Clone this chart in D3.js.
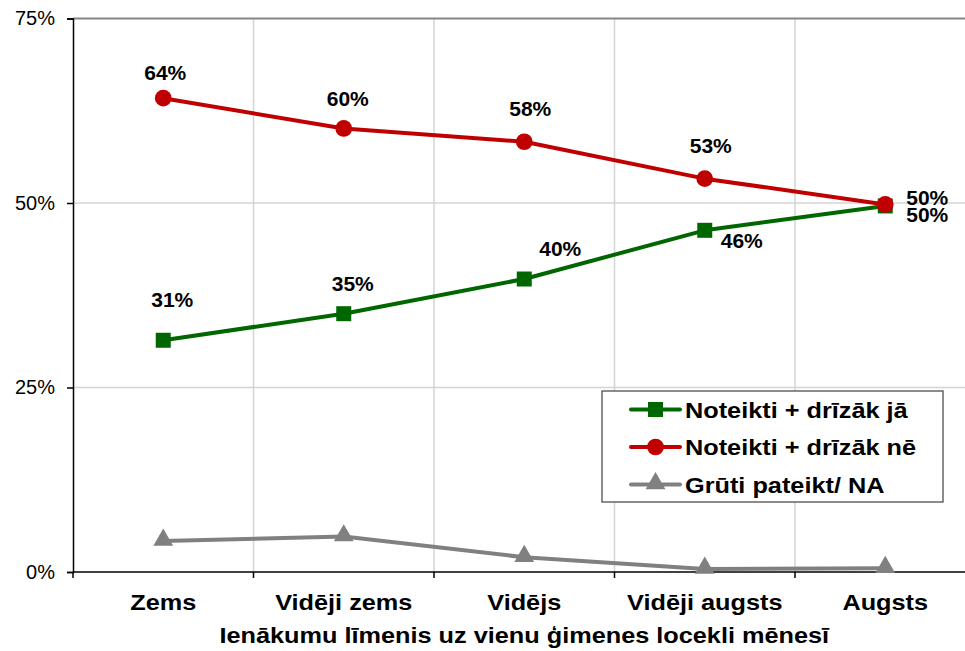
<!DOCTYPE html>
<html>
<head>
<meta charset="utf-8">
<script src="https://cdn.jsdelivr.net/npm/d3@7"></script>
<style>
  html, body { margin: 0; padding: 0; background: #fff; }
  svg { display: block; font-family: "Liberation Sans", Arial, sans-serif; }
</style>
</head>
<body>
<div id="chart"></div>
<script>
// Income level categories
const categories = ["Zems", "Vidēji zems", "Vidējs", "Vidēji augsts", "Augsts"];
const yTicks = [0, 25, 50, 75];
const xTitle = "Ienākumu līmenis uz vienu ģimenes locekli mēnesī";

// Series values (%)
const seriesNames = ["Noteikti + drīzāk jā", "Noteikti + drīzāk nē", "Grūti pateikt/ NA"];
const yesValues = [31.4, 35.0, 39.7, 46.3, 49.6];
const noValues = [64.2, 60.1, 58.3, 53.3, 49.8];
const hardValues = [4.2, 4.8, 2.0, 0.4, 0.5];

// label placement relative to the point (dx, dy of baseline)
const yesLabelOffsets = [[9, -33], [9, -23], [36, -23], [37, 18], [42, 16]];
const noLabelOffsets = [[2, -18], [4, -22], [6, -26], [6, -26], [42, 1]];

const width = 965;
const height = 651;
const plot = { left: 73, right: 975.5, top: 18.5, bottom: 572 };
const stretch = 1.15; // the original's bold text runs a bit wide

const svg = d3.select("#chart")
    .append("svg")
    .attr("width", width)
    .attr("height", height);

const x = d3.scaleBand()
    .domain(categories)
    .range([plot.left, plot.right]);
const xc = d => x(d) + x.bandwidth() / 2;

const y = d3.scaleLinear()
    .domain([0, 75])
    .range([plot.bottom, plot.top]);

// ---- gridlines ----
svg.append("g")
    .selectAll("line.vgrid")
    .data(categories.slice(1))
    .join("line")
    .attr("x1", d => x(d)).attr("x2", d => x(d))
    .attr("y1", plot.top).attr("y2", plot.bottom)
    .attr("stroke", "#d4d4d4")
    .attr("stroke-width", 1.5);

svg.append("g")
    .selectAll("line.hgrid")
    .data(yTicks.filter(t => t > 0))
    .join("line")
    .attr("x1", plot.left).attr("x2", plot.right)
    .attr("y1", d => y(d)).attr("y2", d => y(d))
    .attr("stroke", d => d === 75 ? "#868686" : "#d4d4d4")
    .attr("stroke-width", d => d === 75 ? 2 : 1.5);

// ---- axes ----
const yAxis = svg.append("g")
    .attr("transform", `translate(${plot.left},0)`)
    .call(d3.axisLeft(y).tickValues(yTicks).tickFormat(d => d + "%").tickSize(6).tickPadding(12));
yAxis.select(".domain").attr("stroke", "#000").attr("stroke-width", 1.5);
yAxis.selectAll(".tick line").attr("stroke", "#000").attr("stroke-width", 1.5);
yAxis.selectAll("text")
    .attr("font-size", 20)
    .attr("font-family", "Liberation Sans, Arial, sans-serif")
    .attr("fill", "#000");

const xAxis = svg.append("g")
    .attr("transform", `translate(0,${plot.bottom})`);
xAxis.append("line")
    .attr("x1", plot.left).attr("x2", plot.right)
    .attr("stroke", "#000").attr("stroke-width", 1.5);
xAxis.selectAll("line.tick")
    .data(categories.map(d => x(d)))
    .join("line")
    .attr("class", "tick")
    .attr("x1", d => d).attr("x2", d => d)
    .attr("y1", 0).attr("y2", 6)
    .attr("stroke", "#000").attr("stroke-width", 1.5);
xAxis.selectAll("text")
    .data(categories)
    .join("text")
    .attr("transform", d => `translate(${xc(d)},38) scale(${stretch},1)`)
    .attr("text-anchor", "middle")
    .attr("font-size", 22)
    .attr("font-weight", "bold")
    .text(d => d);

svg.append("text")
    .attr("transform", `translate(${(plot.left + plot.right) / 2},643) scale(${stretch},1)`)
    .attr("text-anchor", "middle")
    .attr("font-size", 22)
    .attr("font-weight", "bold")
    .text(xTitle);

// ---- series ----
const series = [
    { name: seriesNames[0], values: yesValues, color: "#006600", marker: "square", offsets: yesLabelOffsets },
    { name: seriesNames[1], values: noValues, color: "#C00000", marker: "circle", offsets: noLabelOffsets },
    { name: seriesNames[2], values: hardValues, color: "#808080", marker: "triangle", offsets: null }
];

const symbolFor = {
    square: d3.symbol().type(d3.symbolSquare).size(225),
    circle: d3.symbol().type(d3.symbolCircle).size(220),
    triangle: d3.symbol().type(d3.symbolTriangle).size(170)
};

const line = d3.line()
    .x((d, i) => xc(categories[i]))
    .y(d => y(d));

// draw gray first, then green, red on top
const drawOrder = [series[2], series[0], series[1]];
drawOrder.forEach(s => {
    const g = svg.append("g");
    g.append("path")
        .datum(s.values)
        .attr("d", line)
        .attr("fill", "none")
        .attr("stroke", s.color)
        .attr("stroke-width", 4)
        .attr("stroke-linejoin", "round");
    g.selectAll("path.marker")
        .data(s.values)
        .join("path")
        .attr("class", "marker")
        .attr("d", symbolFor[s.marker])
        .attr("transform", (d, i) => `translate(${xc(categories[i])},${y(d) + (s.marker === "triangle" ? -1 : 0)})`)
        .attr("fill", s.color);
});

// data labels
series.filter(s => s.offsets).forEach(s => {
    svg.append("g")
        .selectAll("text")
        .data(s.values)
        .join("text")
        .attr("x", (d, i) => xc(categories[i]) + s.offsets[i][0])
        .attr("y", (d, i) => y(d) + s.offsets[i][1])
        .attr("text-anchor", "middle")
        .attr("font-size", 21)
        .attr("font-weight", "bold")
        .text(d => Math.round(d) + "%");
});

// ---- legend ----
const legend = svg.append("g").attr("transform", "translate(602,391)");
legend.append("rect")
    .attr("width", 341).attr("height", 111)
    .attr("fill", "#fff")
    .attr("stroke", "#404040")
    .attr("stroke-width", 1.2);

const items = legend.selectAll("g.item")
    .data(series)
    .join("g")
    .attr("class", "item")
    .attr("transform", (d, i) => `translate(0,${18.5 + i * 37.5})`);
items.append("line")
    .attr("x1", 29).attr("x2", 78)
    .attr("stroke", d => d.color)
    .attr("stroke-width", 4)
    .attr("stroke-linecap", "round");
items.append("path")
    .attr("d", d => symbolFor[d.marker]())
    .attr("transform", d => `translate(53.5,${d.marker === "triangle" ? -1 : 0})`)
    .attr("fill", d => d.color);
items.append("text")
    .attr("transform", `translate(83,8) scale(${stretch},1)`)
    .attr("font-size", 22)
    .attr("font-weight", "bold")
    .text(d => d.name);
</script>
</body>
</html>
